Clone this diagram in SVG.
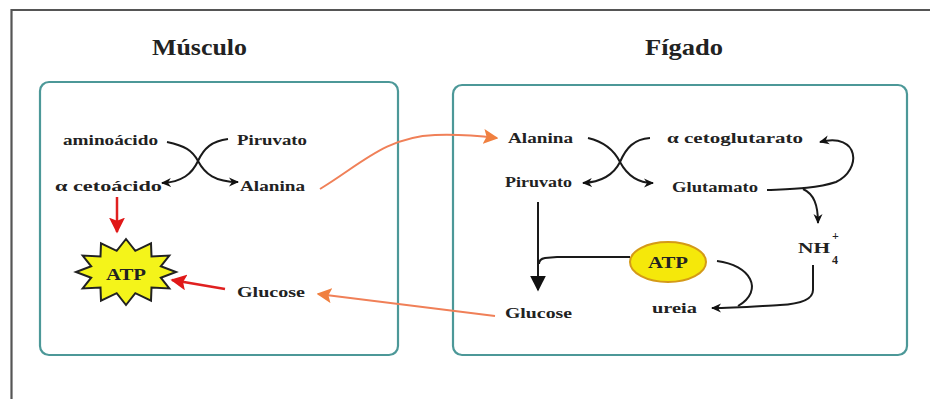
<svg xmlns="http://www.w3.org/2000/svg" width="930" height="399" viewBox="0 0 930 399">
<style>
.t{font-family:"Liberation Serif","Times New Roman",serif;font-weight:bold;font-size:15px;fill:#222}
.title{font-family:"Liberation Serif","Times New Roman",serif;font-weight:bold;font-size:24px;fill:#222}
.box{fill:#fff;stroke:#4c9898;stroke-width:2.2}
.k{fill:none;stroke:#1a1a1a;stroke-width:2}
.r{fill:none;stroke:#e02020;stroke-width:2.5}
.o{fill:none;stroke:#f08058;stroke-width:2}
</style>
<defs>
<marker id="ak" viewBox="0 0 10 10" refX="9" refY="5" markerWidth="10" markerHeight="10" markerUnits="userSpaceOnUse" orient="auto"><path d="M0,0.5 L10,5 L0,9.5 L3,5 z" fill="#111"/></marker>
<marker id="akb" viewBox="0 0 10 10" refX="9" refY="5" markerWidth="16" markerHeight="18" markerUnits="userSpaceOnUse" orient="auto"><path d="M0,0 L10,5 L0,10 z" fill="#111"/></marker>
<marker id="ar" viewBox="0 0 10 10" refX="9" refY="5" markerWidth="16" markerHeight="16" markerUnits="userSpaceOnUse" orient="auto"><path d="M0,0 L10,5 L0,10 L2,5 z" fill="#e01818"/></marker>
<marker id="ao" viewBox="0 0 10 10" refX="9" refY="5" markerWidth="15" markerHeight="15" markerUnits="userSpaceOnUse" orient="auto"><path d="M0,0 L10,5 L0,10 L2,5 z" fill="#f08040"/></marker>
</defs>
<rect width="930" height="399" fill="#fff"/>
<path d="M11.5,400 V10 H932" fill="none" stroke="#555" stroke-width="2.2"/>

<g id="musculo">
<rect class="box" x="40" y="82" width="358" height="273" rx="9"/>
<text class="title" x="152" y="55" textLength="95" lengthAdjust="spacingAndGlyphs">Músculo</text>
</g>
<g id="figado">
<rect class="box" x="453" y="85" width="454" height="270" rx="9"/>
<text class="title" x="645" y="55" textLength="78" lengthAdjust="spacingAndGlyphs">Fígado</text>
</g>

<g id="m-aminoacido"><text class="t" x="63" y="145" textLength="95" lengthAdjust="spacingAndGlyphs">aminoácido</text></g>
<g id="m-piruvato"><text class="t" x="237" y="145" textLength="70" lengthAdjust="spacingAndGlyphs">Piruvato</text></g>
<g id="m-cetoacido"><text class="t" x="55" y="191" textLength="107" lengthAdjust="spacingAndGlyphs">α  cetoácido</text></g>
<g id="m-alanina"><text class="t" x="240" y="191" textLength="65" lengthAdjust="spacingAndGlyphs">Alanina</text></g>
<g id="m-atp">
<polygon points="126,239 135.3,250.8 151,243.4 151.5,256.4 169.3,255.5 160.8,266.3 176,272 160.8,277.7 169.3,288.5 151.5,287.6 151,300.6 135.3,293.2 126,305 116.7,293.2 101,300.6 100.5,287.6 82.7,288.5 91.2,277.7 76,272 91.2,266.3 82.7,255.5 100.5,256.4 101,243.4 116.7,250.8" fill="#f4f41a" stroke="#222" stroke-width="2"/>
<text class="t" x="126" y="280" text-anchor="middle" style="font-size:17px" textLength="40" lengthAdjust="spacingAndGlyphs">ATP</text>
</g>
<g id="m-glucose"><text class="t" x="237" y="297" textLength="68" lengthAdjust="spacingAndGlyphs">Glucose</text></g>

<g id="f-alanina"><text class="t" x="508" y="143" textLength="65" lengthAdjust="spacingAndGlyphs">Alanina</text></g>
<g id="f-cetoglutarato"><text class="t" x="667" y="143" textLength="136" lengthAdjust="spacingAndGlyphs">α  cetoglutarato</text></g>
<g id="f-piruvato"><text class="t" x="505" y="187" textLength="67" lengthAdjust="spacingAndGlyphs">Piruvato</text></g>
<g id="f-glutamato"><text class="t" x="672" y="192" textLength="86" lengthAdjust="spacingAndGlyphs">Glutamato</text></g>
<g id="f-nh4">
<text class="t" x="798" y="253" textLength="32" lengthAdjust="spacingAndGlyphs">NH</text>
<text class="t" x="832" y="240" style="font-size:12px">+</text>
<text class="t" x="832" y="264" style="font-size:12px">4</text>
</g>
<g id="f-atp">
<ellipse cx="668" cy="262" rx="38" ry="20" fill="#f5e80a" stroke="#d49a18" stroke-width="2"/>
<text class="t" x="668" y="268" text-anchor="middle" style="font-size:17px" textLength="40" lengthAdjust="spacingAndGlyphs">ATP</text>
</g>
<g id="f-ureia"><text class="t" x="652" y="313" textLength="45" lengthAdjust="spacingAndGlyphs">ureia</text></g>
<g id="f-glucose"><text class="t" x="505" y="318" textLength="67" lengthAdjust="spacingAndGlyphs">Glucose</text></g>

<g id="connectors">
<path class="k" d="M167,142 C185,146 192,150 198,161 C205,174 215,182 238,182" marker-end="url(#ak)"/>
<path class="k" d="M228,139 C212,141 204,148 198,161 C192,174 182,182 162,183" marker-end="url(#ak)"/>
<path class="r" d="M117,197 V232" marker-end="url(#ar)"/>
<path class="r" d="M225,289 L172,280" marker-end="url(#ar)"/>
<path class="o" d="M320,189 C360,165 385,137 435,135 C460,134 480,136 497,138" marker-end="url(#ao)"/>
<path class="o" d="M495,316 L318,294" marker-end="url(#ao)"/>
<path class="k" d="M588,138 C605,142 614,150 620,162 C627,175 637,183 653,183" marker-end="url(#ak)"/>
<path class="k" d="M650,138 C634,139 626,148 620,162 C614,174 603,182 583,183" marker-end="url(#ak)"/>
<path class="k" d="M767,190 C790,189 815,189 836,182 C862,170 860,132 820,142" marker-end="url(#ak)"/>
<path class="k" d="M803,189 C814,194 818,205 818,223" marker-end="url(#ak)"/>
<path class="k" d="M813,265 V290 C813,300 800,304 780,305 C760,306 735,308 712,308" marker-end="url(#ak)"/>
<path class="k" d="M717,261 C750,265 765,290 738,306"/>
<path class="k" d="M538,202 V290" marker-end="url(#akb)"/>
<path class="k" d="M630,257 H557 L545,258 Q539,259 539,264"/>
</g>
</svg>
